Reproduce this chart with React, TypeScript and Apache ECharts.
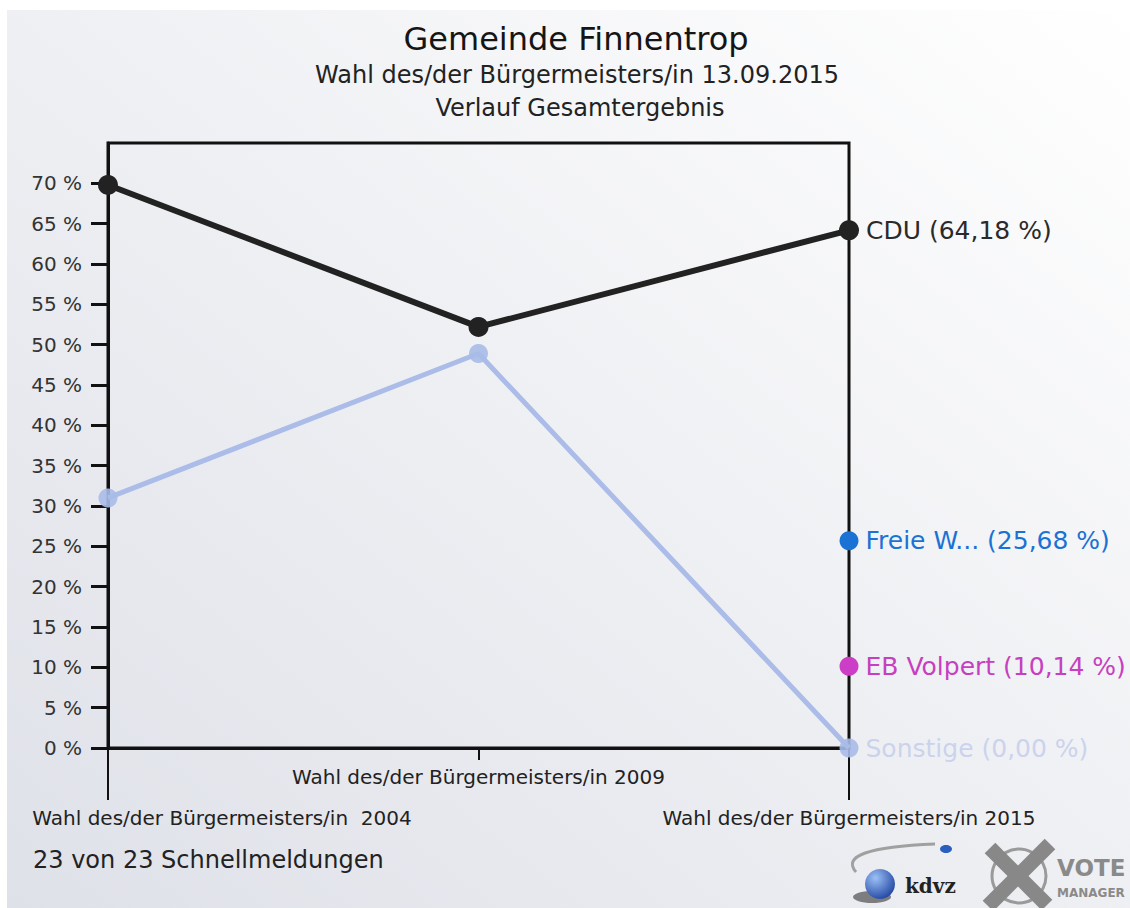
import React, { useEffect, useRef } from 'react';
import * as echarts from 'echarts';

const categories = [
  'Wahl des/der Bürgermeisters/in  2004',
  'Wahl des/der Bürgermeisters/in 2009',
  'Wahl des/der Bürgermeisters/in 2015',
];
const cduValues = [69.8, 52.2, 64.18];
const sonstigeValues = [31.0, 48.9, 0];
const freieValues = [null, null, 25.68];
const ebValues = [null, null, 10.14];
const yTickValues = [0, 5, 10, 15, 20, 25, 30, 35, 40, 45, 50, 55, 60, 65, 70];

const titleText = 'Gemeinde Finnentrop';
const subtitleText = 'Wahl des/der Bürgermeisters/in 13.09.2015';
const subtitle2Text = 'Verlauf Gesamtergebnis';
const footerText = '23 von 23 Schnellmeldungen';

const FONT = 'DejaVu Sans';

function endLabel(name: string, color: string) {
  return {
    show: true,
    position: 'right',
    distance: 7,
    color,
    fontSize: 25,
    fontFamily: FONT,
    formatter: (p: any) =>
      p.dataIndex === 2 ? `${name} (${Number(p.value).toFixed(2).replace('.', ',')} %)` : '',
  };
}

export default function App() {
  const ref = useRef<HTMLDivElement>(null);
  useEffect(() => {
    if (!ref.current) return;
    const chart = echarts.init(ref.current, null, { renderer: 'svg' });
    const option: any = {
      animation: false,
      backgroundColor: '#ffffff',
      title: [
        { text: titleText, left: 576, top: 23, textAlign: 'center', padding: 0,
          textStyle: { fontFamily: FONT, fontSize: 32, fontWeight: 'normal', color: '#151515' } },
        { text: subtitleText, left: 577, top: 63, textAlign: 'center', padding: 0,
          textStyle: { fontFamily: FONT, fontSize: 24, fontWeight: 'normal', color: '#222' } },
        { text: subtitle2Text, left: 580, top: 96, textAlign: 'center', padding: 0,
          textStyle: { fontFamily: FONT, fontSize: 24, fontWeight: 'normal', color: '#222' } },
      ],
      grid: {
        left: 108, right: 281, top: 143, bottom: 160,
        show: true, borderColor: '#111', borderWidth: 3, backgroundColor: 'transparent',
      },
      xAxis: [
        {
          type: 'category', data: categories, boundaryGap: false, position: 'bottom',
          axisLine: { show: true, lineStyle: { color: '#111', width: 3 } },
          axisTick: { show: true, interval: (i: number) => i === 1, length: 12, lineStyle: { color: '#111', width: 2 } },
          axisLabel: { interval: (i: number) => i === 1, margin: 19, fontSize: 20, color: '#222', fontFamily: FONT },
          splitLine: { show: false },
        },
        {
          type: 'category', data: categories, boundaryGap: false, position: 'bottom',
          axisLine: { show: false },
          axisTick: { show: true, interval: (i: number) => i !== 1, length: 52, lineStyle: { color: '#111', width: 2 } },
          axisLabel: {
            interval: (i: number) => i !== 1, margin: 60, fontSize: 20, color: '#222', fontFamily: FONT,
            formatter: (v: string, i: number) => (i === 0 ? `{a|${v}}` : `{b|${v}}`),
            rich: {
              a: { padding: [0, 0, 0, 228], fontSize: 20, color: '#222', fontFamily: FONT },
              b: { fontSize: 20, color: '#222', fontFamily: FONT },
            },
          },
          splitLine: { show: false },
        },
      ],
      yAxis: {
        type: 'value', min: 0, max: 75, interval: 5,
        axisLine: { show: true, lineStyle: { color: '#111', width: 3 } },
        axisTick: { show: true, length: 17, lineStyle: { color: '#111', width: 3 }, customValues: yTickValues },
        axisLabel: { customValues: yTickValues, formatter: '{value} %', margin: 26, fontSize: 20, color: '#333', fontFamily: FONT },
        splitLine: { show: false },
      },
      series: [
        {
          type: 'line', name: 'Sonstige', data: sonstigeValues, symbol: 'circle', symbolSize: 19,
          lineStyle: { width: 5, color: '#abbce8' }, itemStyle: { color: '#a9bbe8', opacity: 0.9 },
          label: endLabel('Sonstige', '#c6cfec'), z: 3,
        },
        {
          type: 'line', name: 'CDU', data: cduValues, symbol: 'circle', symbolSize: 20,
          lineStyle: { width: 6, color: '#222' }, itemStyle: { color: '#222' },
          label: endLabel('CDU', '#2a2a2a'), z: 4,
        },
        {
          type: 'line', name: 'Freie W...', data: freieValues, symbol: 'circle', symbolSize: 19,
          lineStyle: { width: 5, color: '#1a72d4' }, itemStyle: { color: '#1a72d4' },
          label: endLabel('Freie W...', '#1a72d4'), z: 4,
        },
        {
          type: 'line', name: 'EB Volpert', data: ebValues, symbol: 'circle', symbolSize: 19,
          lineStyle: { width: 5, color: '#cc3ec6' }, itemStyle: { color: '#cc3ec6' },
          label: endLabel('EB Volpert', '#c63fc0'), z: 4,
        },
      ],
      graphic: [
        {
          type: 'rect', z: -100, silent: true,
          shape: { x: 7, y: 10, width: 1123, height: 898 },
          style: {
            fill: new echarts.graphic.LinearGradient(0, 1, 1, 0, [
              { offset: 0, color: '#dfe1e9' },
              { offset: 0.55, color: '#f0f1f4' },
              { offset: 1, color: '#ffffff' },
            ]),
          },
        },
        {
          type: 'text', x: 33, y: 860, silent: true,
          style: { text: footerText, fontFamily: FONT, fontSize: 24, fill: '#222', verticalAlign: 'middle' },
        },
        // logo: kdvz
        {
          type: 'bezierCurve', silent: true,
          shape: { x1: 856, y1: 872, x2: 935, y2: 844, cpx1: 835, cpy1: 848 },
          style: { stroke: '#a0a0a0', lineWidth: 3, fill: null },
        },
        {
          type: 'ellipse', silent: true,
          shape: { cx: 946, cy: 849, rx: 6, ry: 4 },
          style: { fill: '#2a5fc0' },
        },
        {
          type: 'ellipse', silent: true,
          shape: { cx: 872, cy: 897, rx: 19, ry: 6 },
          style: { fill: '#333', opacity: 0.6 },
        },
        {
          type: 'circle', silent: true,
          shape: { cx: 880, cy: 884, r: 15 },
          style: {
            fill: new echarts.graphic.RadialGradient(0.35, 0.3, 0.8, [
              { offset: 0, color: '#9cc0f5' },
              { offset: 1, color: '#1b3f9e' },
            ]),
          },
        },
        {
          type: 'text', x: 905, y: 886, silent: true,
          style: { text: 'kdvz', fontFamily: 'DejaVu Serif', fontWeight: 'bold', fontSize: 20, fill: '#222', verticalAlign: 'middle' },
        },
        // logo: VOTE MANAGER
        {
          type: 'circle', silent: true,
          shape: { cx: 1019, cy: 876, r: 27 },
          style: { fill: null, stroke: '#9a9a9a', lineWidth: 3 },
        },
        {
          type: 'line', silent: true,
          shape: { x1: 990, y1: 848, x2: 1047, y2: 905 },
          style: { stroke: '#888', lineWidth: 15 },
        },
        {
          type: 'line', silent: true,
          shape: { x1: 1050, y1: 844, x2: 988, y2: 906 },
          style: { stroke: '#888', lineWidth: 15 },
        },
        {
          type: 'text', x: 1057, y: 868, silent: true,
          style: { text: 'VOTE', fontFamily: FONT, fontWeight: 'bold', fontSize: 23, fill: '#8a8a8a', verticalAlign: 'middle' },
        },
        {
          type: 'text', x: 1057, y: 893, silent: true,
          style: { text: 'MANAGER', fontFamily: FONT, fontWeight: 'bold', fontSize: 12, fill: '#8a8a8a', verticalAlign: 'middle' },
        },
      ],
    };
    chart.setOption(option);
    return () => chart.dispose();
  }, []);
  return (
    <div
      ref={ref}
      style={{ position: 'absolute', left: 0, top: 0, width: 1130, height: 908 }}
    />
  );
}
